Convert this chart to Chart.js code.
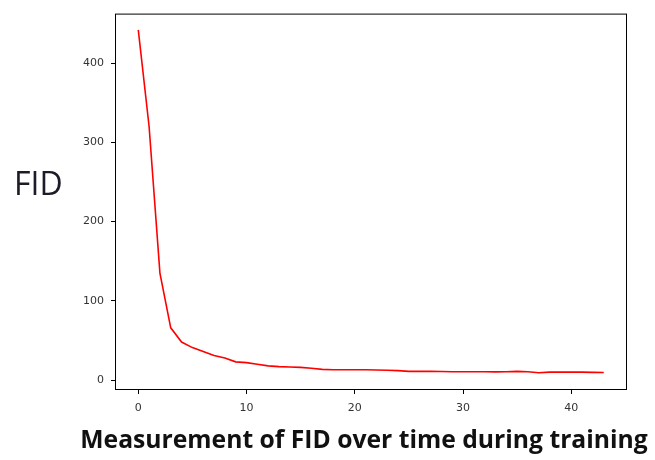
<!DOCTYPE html>
<html>
<head>
<meta charset="utf-8">
<script src="https://cdn.jsdelivr.net/npm/chart.js@4"></script>
<style>
  html, body { margin: 0; padding: 0; background: #fff; }
  #wrap { width: 655px; height: 460px; position: relative; }
</style>
</head>
<body>
<div id="wrap"><canvas id="fidChart" width="655" height="460"></canvas></div>
<script>
// FID value at each measurement step
const steps = [];
for (let i = 0; i <= 43; i++) steps.push(i);
const fidValues = [
    442, 320, 135, 66, 48, 41, 36, 31, 28, 23,
    22, 20, 18, 17, 16.5, 16, 15, 13.5, 13, 13,
    13, 13, 12.8, 12.5, 12, 11, 11, 11, 10.8, 10.6,
    10.5, 10.5, 10.5, 10.4, 10.5, 11, 10.5, 9.2, 10, 10,
    10, 10, 9.8, 9.6
];
const xTicks = [0, 10, 20, 30, 40];
const yTicks = [0, 100, 200, 300, 400];
const yLabel = "FID";
const xLabel = "Measurement of FID over time during training";

document.addEventListener("DOMContentLoaded", () => {
    const ctx = document.getElementById("fidChart").getContext("2d");

    // draws the full box around the plot and the two axis labels
    const framePlugin = {
        id: "frame",
        afterDraw(chart) {
            const a = chart.chartArea;
            const c = chart.ctx;
            c.save();
            c.strokeStyle = "#000";
            c.lineWidth = 1;
            c.strokeRect(a.left + 0.5, a.top + 0.5, a.right - a.left - 1, a.bottom - a.top - 1);

            c.fillStyle = "#1c1c28";
            c.font = "32px 'Open Sans'";
            c.textAlign = "left";
            c.textBaseline = "middle";
            c.fillText(yLabel, 14, 186);

            c.fillStyle = "#111";
            c.font = "bold 24.7px 'Open Sans'";
            c.textAlign = "center";
            c.fillText(xLabel, 364, 441);
            c.restore();
        }
    };

    const tickFont = { family: "'DejaVu Sans'", size: 11 };

    new Chart(ctx, {
        type: "line",
        data: {
            labels: steps,
            datasets: [{
                label: "FID",
                data: steps.map((s, i) => ({ x: s, y: fidValues[i] })),
                borderColor: "#ff0000",
                borderWidth: 1.6,
                pointRadius: 0,
                tension: 0,
                fill: false
            }]
        },
        options: {
            responsive: false,
            animation: false,
            layout: { padding: { left: 0, top: 9, right: 28, bottom: 0 } },
            plugins: {
                legend: { display: false },
                tooltip: { enabled: false }
            },
            scales: {
                x: {
                    type: "linear",
                    min: -2.15,
                    max: 45.15,
                    afterBuildTicks: (scale) => { scale.ticks = xTicks.map(v => ({ value: v })); },
                    afterFit: (scale) => { scale.height = 70; },
                    border: { display: false },
                    grid: { drawOnChartArea: false, drawTicks: true, tickLength: 4, tickColor: "#000" },
                    ticks: { color: "#333", font: tickFont, padding: 8, maxRotation: 0 }
                },
                y: {
                    type: "linear",
                    min: -12.5,
                    max: 462.5,
                    afterBuildTicks: (scale) => { scale.ticks = yTicks.map(v => ({ value: v })); },
                    afterFit: (scale) => { scale.width = 115; },
                    border: { display: false },
                    grid: { drawOnChartArea: false, drawTicks: true, tickLength: 4, tickColor: "#000" },
                    ticks: { color: "#333", font: tickFont, padding: 7 }
                }
            }
        },
        plugins: [framePlugin]
    });
});
</script>
</body>
</html>
